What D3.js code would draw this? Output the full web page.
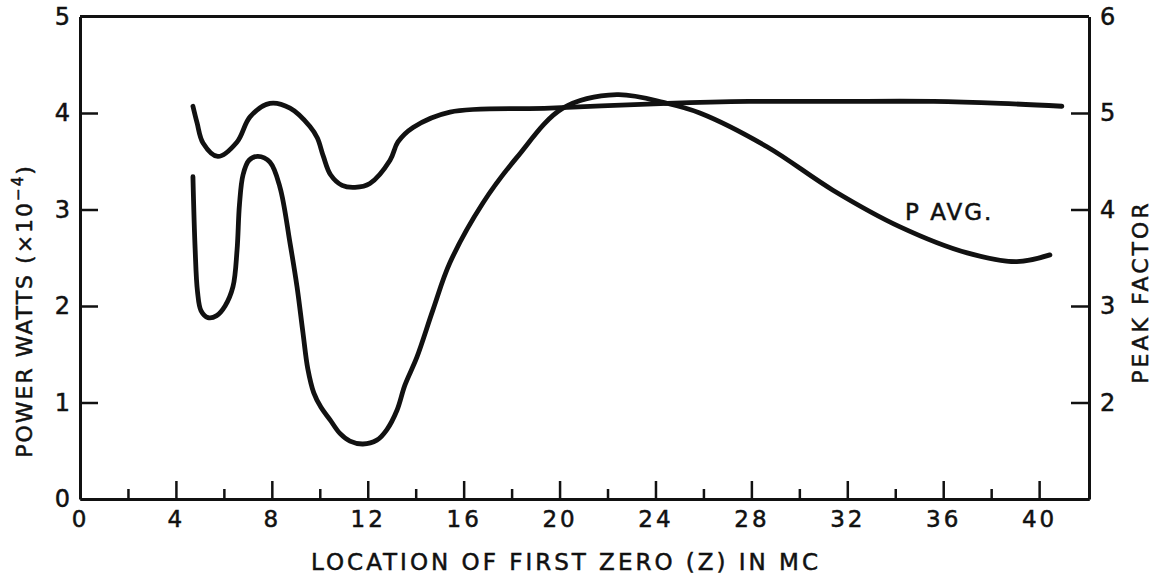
<!DOCTYPE html>
<html>
<head>
<meta charset="utf-8">
<script src="https://cdn.jsdelivr.net/npm/d3@7"></script>
<style>
  html, body { margin: 0; padding: 0; background: #fff; }
  svg { display: block; }
  text { font-family: "DejaVu Sans", sans-serif; fill: #111; stroke: #111; stroke-width: 0.5px; }
</style>
</head>
<body>
<svg id="chart" width="1154" height="575"></svg>
<script>
// Location of first zero (MC) vs. average power (left axis, ×10^-4 W)
const pAvgZ   = [4.71, 4.80, 4.90, 5.05, 5.34, 5.70, 6.05, 6.38, 6.55, 6.65, 6.80, 7.05, 7.42, 7.92, 8.34, 8.76, 9.05, 9.30, 9.50, 9.75, 10.05, 10.43, 10.84, 11.26, 11.80, 12.38, 12.80, 13.22, 13.55, 14.05, 14.72, 15.43, 16.81, 18.22, 20.14, 22.39, 24.48, 25.85, 28.65, 31.4, 34.2, 37.0, 39.07, 40.45];
const pAvgVal = [3.34, 2.60, 2.15, 1.95, 1.88, 1.90, 2.00, 2.20, 2.58, 3.05, 3.36, 3.51, 3.55, 3.49, 3.23, 2.65, 2.20, 1.72, 1.35, 1.10, 0.95, 0.82, 0.68, 0.60, 0.57, 0.61, 0.72, 0.92, 1.18, 1.47, 1.96, 2.45, 3.07, 3.54, 4.05, 4.19, 4.10, 4.00, 3.65, 3.20, 2.82, 2.55, 2.46, 2.53];

// Location of first zero (MC) vs. peak factor (right axis)
const peakZ   = [4.71, 4.88, 5.13, 5.75, 6.55, 7.09, 7.92, 8.76, 9.59, 9.90, 10.15, 10.45, 10.93, 11.47, 12.09, 12.93, 13.26, 13.89, 15.43, 19.6, 24.48, 27.9, 31.4, 35.6, 38.4, 40.95];
const peakVal = [5.07, 4.90, 4.69, 4.55, 4.70, 4.96, 5.10, 5.05, 4.86, 4.74, 4.55, 4.36, 4.25, 4.23, 4.27, 4.51, 4.70, 4.85, 5.01, 5.05, 5.10, 5.12, 5.12, 5.12, 5.10, 5.07];

const xMajorTicks = [0, 4, 8, 12, 16, 20, 24, 28, 32, 36, 40];
const xMinorTicks = [2, 6, 10, 14, 18, 22, 26, 30, 34, 38];
const leftTicks  = [0, 1, 2, 3, 4, 5];
const rightTicks = [2, 3, 4, 5, 6];

const svg = d3.select("#chart");
const plotLeft = 80, plotRight = 1089, plotTop = 16.5, plotBottom = 499;

const x  = d3.scaleLinear().domain([0, 42.08]).range([plotLeft, plotRight]);
const yL = d3.scaleLinear().domain([0, 5]).range([plotBottom, plotTop]);
const yR = d3.scaleLinear().domain([1, 6]).range([plotBottom, plotTop]);

const axisStroke = 3;

// frame: top edge
svg.append("line")
  .attr("x1", plotLeft).attr("x2", plotRight).attr("y1", plotTop).attr("y2", plotTop)
  .attr("stroke", "#111").attr("stroke-width", axisStroke);

function styleAxis(g) {
  g.select(".domain").attr("stroke", "#111").attr("stroke-width", axisStroke);
  g.selectAll(".tick line").attr("stroke", "#111").attr("stroke-width", 2.5);
  g.selectAll(".tick text").attr("fill", "#111").attr("stroke", "#111").attr("stroke-width", 0.5)
    .style("font-family", "\"DejaVu Sans\", sans-serif");
}

// bottom axis: major ticks with labels
const gx = svg.append("g").attr("transform", `translate(0,${plotBottom})`)
  .call(d3.axisBottom(x).tickValues(xMajorTicks).tickSizeInner(-18).tickSizeOuter(0).tickPadding(12).tickFormat(d3.format("d")));
styleAxis(gx);
gx.selectAll(".tick text").style("font-size", "23px").style("letter-spacing", "3px");
gx.selectAll(".tick").filter(d => d === 0).select("line").remove();

// bottom axis: minor ticks
const gxm = svg.append("g").attr("transform", `translate(0,${plotBottom})`)
  .call(d3.axisBottom(x).tickValues(xMinorTicks).tickSizeInner(-10).tickSizeOuter(0).tickFormat(""));
styleAxis(gxm);

// left axis
const gl = svg.append("g").attr("transform", `translate(${plotLeft},0)`)
  .call(d3.axisLeft(yL).tickValues(leftTicks).tickSizeInner(-18).tickSizeOuter(0).tickPadding(10).tickFormat(d3.format("d")));
styleAxis(gl);
gl.selectAll(".tick text").style("font-size", "24px");
gl.selectAll(".tick").filter(d => d === 0 || d === 5).select("line").remove();

// right axis
const gr = svg.append("g").attr("transform", `translate(${plotRight},0)`)
  .call(d3.axisRight(yR).tickValues(rightTicks).tickSizeInner(-18).tickSizeOuter(0).tickPadding(11).tickFormat(d3.format("d")));
styleAxis(gr);
gr.selectAll(".tick text").style("font-size", "24px");
gr.selectAll(".tick").filter(d => d === 6).select("line").remove();

// curves
const lineL = d3.line().x(d => x(d[0])).y(d => yL(d[1])).curve(d3.curveCatmullRom.alpha(0.5));
const lineR = d3.line().x(d => x(d[0])).y(d => yR(d[1])).curve(d3.curveCatmullRom.alpha(0.5));

svg.append("path")
  .datum(pAvgZ.map((z, i) => [z, pAvgVal[i]]))
  .attr("d", lineL)
  .attr("fill", "none").attr("stroke", "#111").attr("stroke-width", 4.8)
  .attr("stroke-linecap", "round").attr("stroke-linejoin", "round");

svg.append("path")
  .datum(peakZ.map((z, i) => [z, peakVal[i]]))
  .attr("d", lineR)
  .attr("fill", "none").attr("stroke", "#111").attr("stroke-width", 4.8)
  .attr("stroke-linecap", "round").attr("stroke-linejoin", "round");

// curve label
svg.append("text")
  .attr("x", 905).attr("y", 220)
  .style("font-size", "23px").style("letter-spacing", "2px")
  .text("P AVG.");

// axis titles
svg.append("text")
  .attr("x", 566).attr("y", 570)
  .attr("text-anchor", "middle")
  .style("font-size", "23px").style("letter-spacing", "3px")
  .text("LOCATION OF FIRST ZERO (Z) IN MC");

const yTitle = svg.append("text")
  .attr("transform", "translate(32,311) rotate(-90)")
  .attr("text-anchor", "middle")
  .style("font-size", "22px").style("letter-spacing", "2px");
yTitle.append("tspan").text("POWER WATTS (\u00d710");
yTitle.append("tspan").attr("dy", "-9").style("font-size", "15px").text("\u22124");
yTitle.append("tspan").attr("dy", "9").text(")");

svg.append("text")
  .attr("transform", "translate(1148,292) rotate(-90)")
  .attr("text-anchor", "middle")
  .style("font-size", "22px").style("letter-spacing", "3px")
  .text("PEAK FACTOR");
</script>
</body>
</html>
